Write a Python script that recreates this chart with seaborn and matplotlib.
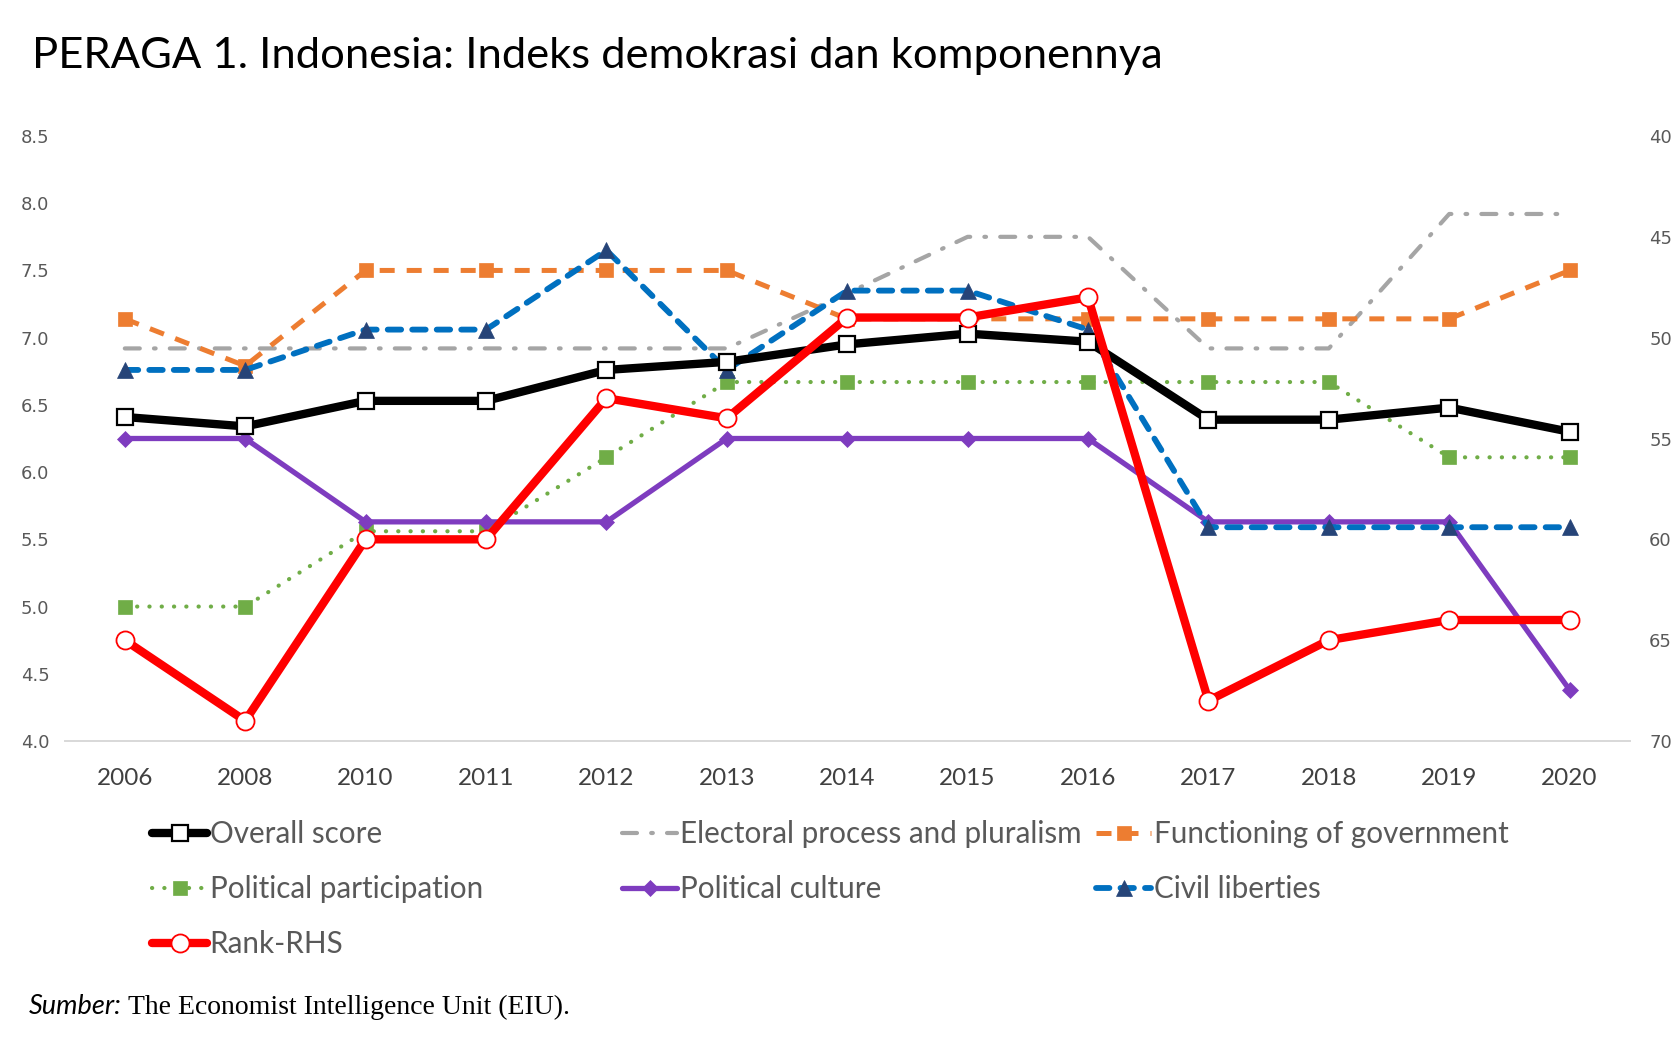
import matplotlib
matplotlib.use('Agg')
import matplotlib.pyplot as plt
import seaborn as sns
import pandas as pd
import numpy as np

# ---------------- data ----------------
years = ['2006', '2008', '2010', '2011', '2012', '2013', '2014',
         '2015', '2016', '2017', '2018', '2019', '2020']
overall_score = [6.41, 6.34, 6.53, 6.53, 6.76, 6.82, 6.95, 7.03, 6.97, 6.39, 6.39, 6.48, 6.30]
electoral_process = [6.92, 6.92, 6.92, 6.92, 6.92, 6.92, 7.33, 7.75, 7.75, 6.92, 6.92, 7.92, 7.92]
functioning_gov = [7.14, 6.79, 7.50, 7.50, 7.50, 7.50, 7.14, 7.14, 7.14, 7.14, 7.14, 7.14, 7.50]
political_participation = [5.00, 5.00, 5.56, 5.56, 6.11, 6.67, 6.67, 6.67, 6.67, 6.67, 6.67, 6.11, 6.11]
political_culture = [6.25, 6.25, 5.63, 5.63, 5.63, 6.25, 6.25, 6.25, 6.25, 5.63, 5.63, 5.63, 4.38]
civil_liberties = [6.76, 6.76, 7.06, 7.06, 7.65, 6.76, 7.35, 7.35, 7.06, 5.59, 5.59, 5.59, 5.59]
rank_rhs = [65, 69, 60, 60, 53, 54, 49, 49, 48, 68, 65, 64, 64]

left_ticks = [4.0, 4.5, 5.0, 5.5, 6.0, 6.5, 7.0, 7.5, 8.0, 8.5]
right_ticks = [40, 45, 50, 55, 60, 65, 70]

title = 'PERAGA 1. Indonesia: Indeks demokrasi dan komponennya'
source_lead = 'Sumber:'
source_text = 'The Economist Intelligence Unit (EIU).'

# ---------------- style ----------------
sns.set_theme(style='white')
plt.rcParams['font.family'] = ['Lato', 'DejaVu Sans']

W, H = 1672, 1042
fig = plt.figure(figsize=(W / 100, H / 100), dpi=100)
ax = fig.add_axes([64.6 / W, 1 - 741 / H, (1629.8 - 64.6) / W, (741 - 136) / H])
ax2 = ax.twinx()

df = pd.DataFrame({
    'year': years,
    'Overall score': overall_score,
    'Electoral process and pluralism': electoral_process,
    'Functioning of government': functioning_gov,
    'Political participation': political_participation,
    'Political culture': political_culture,
    'Civil liberties': civil_liberties,
    'Rank-RHS': rank_rhs,
})

styles = {
    'Electoral process and pluralism': dict(color='#A5A5A5', lw=3.0,
        linestyle=(0, (3.6, 3.4, 0.4, 3.4)), dash_capstyle='round', marker=None, zorder=2),
    'Functioning of government': dict(color='#ED7D31', lw=3.6,
        linestyle=(0, (3.0, 2.4)), dash_capstyle='butt', marker='s', markersize=10,
        markerfacecolor='#ED7D31', markeredgecolor='#ED7D31', markeredgewidth=0.5, zorder=3),
    'Political participation': dict(color='#70AD47', lw=3.0,
        linestyle=(0, (0.05, 2.9)), dash_capstyle='round', marker='s', markersize=10,
        markerfacecolor='#70AD47', markeredgecolor='#70AD47', markeredgewidth=0.5, zorder=4),
    'Political culture': dict(color='#7E3CBF', lw=3.8, linestyle='-', marker='D',
        markersize=8.5, markerfacecolor='#7E3CBF', markeredgecolor='#7E3CBF',
        markeredgewidth=0.5, zorder=5),
    'Civil liberties': dict(color='#0070C0', lw=4.2,
        linestyle=(0, (2.3, 1.9)), dash_capstyle='round', marker='^', markersize=12,
        markerfacecolor='#264478', markeredgecolor='#264478', markeredgewidth=0.5, zorder=6),
    'Overall score': dict(color='#000000', lw=6.0, linestyle='-', marker='s',
        markersize=11, markerfacecolor='white', markeredgecolor='#000000',
        markeredgewidth=1.6, zorder=7),
}

for name, st in styles.items():
    st = dict(st)
    z = st.pop('zorder')
    sns.lineplot(data=df, x='year', y=name, ax=ax, sort=False, legend=False,
                 label=name, zorder=z, **st)

sns.lineplot(data=df, x='year', y='Rank-RHS', ax=ax2, sort=False, legend=False,
             label='Rank-RHS', color='#FF0000', lw=6.0, linestyle='-', marker='o',
             markersize=13, markerfacecolor='white', markeredgecolor='#FF0000',
             markeredgewidth=1.3)

for a in (ax, ax2):
    if a.get_legend() is not None:
        a.get_legend().remove()
    a.set_xlabel('')
    a.set_ylabel('')
    for s in ('top', 'left', 'right'):
        a.spines[s].set_visible(False)
    a.spines['bottom'].set_color('#D9D9D9')
    a.spines['bottom'].set_linewidth(1.3)
    a.grid(False)

ax.set_xlim(-0.5, len(years) - 0.5)
ax.set_ylim(4.0, 8.5)
ax2.set_ylim(70, 40)

ax.set_yticks(left_ticks)
ax.set_yticklabels([f'{v:.1f}' for v in left_ticks], family='DejaVu Sans',
                   fontsize=13, color='#595959')
ax2.set_yticks(right_ticks)
ax2.set_yticklabels([str(v) for v in right_ticks], family='DejaVu Sans',
                    fontsize=13, color='#595959')
ax.tick_params(axis='y', length=0, pad=11)
ax2.tick_params(axis='y', length=0, pad=14)
ax.tick_params(axis='x', length=0, pad=19.5, labelsize=17.5, labelcolor='#404040')
ax2.tick_params(axis='x', length=0)

# ---------------- legend (three columns) ----------------
handles = {l.get_label(): l for l in ax.get_lines() + ax2.get_lines()}
columns = [
    (['Overall score', 'Political participation', 'Rank-RHS'], 152),
    (['Electoral process and pluralism', 'Political culture'], 622),
    (['Functioning of government', 'Civil liberties'], 1096),
]
for names, x0 in columns:
    leg = fig.legend([handles[n] for n in names], names, loc='upper left',
                     bbox_to_anchor=(x0 / W, 1 - 820 / H), frameon=False,
                     fontsize=21.3, handlelength=1.86, handletextpad=0.09,
                     borderpad=0, borderaxespad=0, labelspacing=0.92)
    for t in leg.get_texts():
        t.set_color('#595959')

# ---------------- title & source ----------------
fig.text(32 / W, 1 - 68 / H, title, fontsize=31.3, color='black', va='baseline', ha='left')
fig.text(29 / W, 1 - 1014 / H, source_lead, fontsize=19.5, style='italic',
         color='black', va='baseline', ha='left')
fig.text(128 / W, 1 - 1014 / H, source_text, fontsize=20, family='Liberation Serif',
         color='black', va='baseline', ha='left')

fig.savefig('out.png', dpi=100)
